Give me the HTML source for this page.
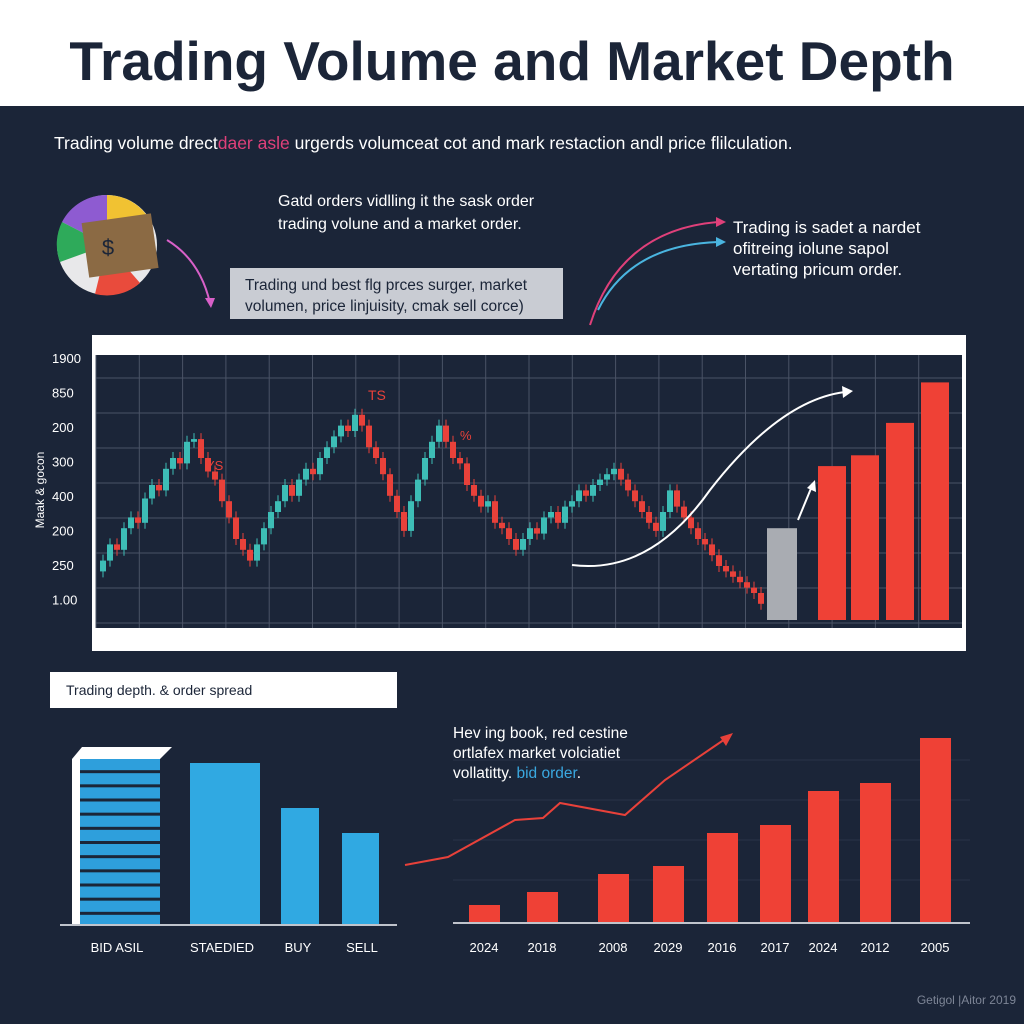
<!DOCTYPE html>
<html><head><meta charset="utf-8"><style>
body{margin:0;width:1024px;height:1024px;background:#1b2538;overflow:hidden;font-family:"Liberation Sans",sans-serif}
svg{display:block}
</style></head><body>
<svg id="c" width="1024" height="1024" xmlns="http://www.w3.org/2000/svg">
<rect x="0" y="0" width="1024" height="1024" fill="#1b2538"/>
<rect x="0" y="0" width="1024" height="106" fill="#ffffff"/>
<text x="512" y="80" text-anchor="middle" font-size="55" font-weight="bold" fill="#1b2538">Trading Volume and Market Depth</text>
<text x="54" y="149" font-size="17.5" fill="#ffffff">Trading volume drect<tspan fill="#e0407a">daer asle</tspan> urgerds volumceat cot and mark restaction andl price flilculation.</text>
<g>
<circle cx="107" cy="245" r="50" fill="#e8e8ea"/>
<path d="M107 245 L107 195 A50 50 0 0 1 150 220 Z" fill="#f1c232"/>
<path d="M107 245 L62 222 A50 50 0 0 1 107 195 Z" fill="#8e5bd1"/>
<path d="M107 245 L60 262 A50 50 0 0 1 62 222 Z" fill="#2eaa5a"/>
<path d="M107 245 L140 283 A50 50 0 0 1 95 294 Z" fill="#e94b3c"/>
<rect x="85" y="218" width="70" height="55" fill="#8b6a44" transform="rotate(-8 120 245)"/>
<text x="108" y="255" font-size="22" fill="#1b2538" text-anchor="middle">$</text>
</g>
<path d="M167 240 Q200 260 210 303" fill="none" stroke="#d860c8" stroke-width="2"/>
<polygon points="205,298 215,298 211,308" fill="#d860c8"/>
<text x="278" y="206" font-size="16" fill="#fff">Gatd orders vidlling it the sask order</text>
<text x="278" y="229" font-size="16" fill="#fff">trading volune and a market order.</text>
<rect x="230" y="268" width="333" height="51" fill="#c9ccd3"/>
<text x="245" y="290" font-size="15.5" fill="#1b2538">Trading und best flg prces surger, market</text>
<text x="245" y="311" font-size="15.5" fill="#1b2538">volumen, price linjuisity, cmak sell corce)</text>
<path d="M590 325 Q620 230 718 222" fill="none" stroke="#e0407a" stroke-width="2"/>
<path d="M598 310 Q630 245 718 242" fill="none" stroke="#4ab5e0" stroke-width="2"/>
<polygon points="716,217 726,222 716,227" fill="#e0407a"/>
<polygon points="716,237 726,242 716,247" fill="#4ab5e0"/>
<text x="733" y="233" font-size="17" fill="#fff">Trading is sadet a nardet</text>
<text x="733" y="254" font-size="17" fill="#fff">ofitreing iolune sapol</text>
<text x="733" y="275" font-size="17" fill="#fff">vertating pricum order.</text>

<rect x="92" y="335" width="874" height="316" fill="#ffffff"/>
<rect x="96" y="355" width="866" height="273" fill="#1b2538"/>
<g id="cgrid"></g>
<g id="candles"></g>
<g id="ylabels"></g>
<text x="44" y="490" font-size="12" fill="#fff" transform="rotate(-90 44 490)" text-anchor="middle">Maak &amp; gocon</text>
<text x="368" y="400" font-size="14" fill="#e8413a">TS</text>
<text x="206" y="470" font-size="13" fill="#e8413a">YS</text>
<text x="460" y="440" font-size="13" fill="#e8413a">%</text>
<path d="M572 565 Q650 575 710 490 Q780 400 845 392" fill="none" stroke="#fff" stroke-width="2"/>
<polygon points="842,386 853,391 843,398" fill="#fff"/>
<path d="M798 520 L812 486" stroke="#fff" stroke-width="2"/>
<polygon points="807,488 815,480 816,492" fill="#fff"/>

<rect x="50" y="672" width="347" height="36" fill="#fff"/>
<text x="66" y="695" font-size="14" fill="#1b2538">Trading depth. &amp; order spread</text>
<g id="depth"></g>
<g id="years"></g>
<text x="453" y="738" font-size="15.5" fill="#fff">Hev ing book, red cestine</text>
<text x="453" y="758" font-size="15.5" fill="#fff">ortlafex market volciatiet</text>
<text x="453" y="778" font-size="15.5" fill="#fff">vollatitty. <tspan fill="#3aa8e0">bid order</tspan>.</text>
<text x="1016" y="1004" font-size="12" fill="#7d8596" text-anchor="end">Getigol |Aitor 2019</text>
</svg>
<script>
const NS="http://www.w3.org/2000/svg";
const priceCloses=[22,28,26,34,38,36,45,50,48,56,60,58,66,67,60,55,52,44,38,30,26,22,28,34,40,44,50,46,52,56,54,60,64,68,72,70,76,72,64,60,54,46,40,33,44,52,60,66,72,66,60,58,50,46,42,44,36,34,30,26,30,34,32,38,40,36,42,44,48,46,50,52,54,56,52,48,44,40,36,33,40,48,42,38,34,30,28,24,20,18,16,14,12,10,6];
const volumeBars=[34,57,61,73,88];
const yTickLabels=["1900","850","200","300","400","200","250","1.00"];
const depthCategories=["BID ASIL","STAEDIED","BUY","SELL"];
const depthValues=[170,162,117,92];
const yearCategories=["2024","2018","2008","2029","2016","2017","2024","2012","2005"];
const yearValues=[18,31,49,57,90,98,132,140,185];
const trendValues=[58,66,103,105,120,108,143,186];

function mk(tag,attrs,parent){const e=document.createElementNS(NS,tag);for(const k in attrs)e.setAttribute(k,attrs[k]);parent.appendChild(e);return e;}
const yP=v=>620-v*2.7;
const xC=i=>100+i*7;
const g=document.getElementById('cgrid');
for(let i=0;i<20;i++){const l=mk('line',{x1:96+i*43.3,x2:96+i*43.3,y1:355,y2:628,stroke:'#4a5366','stroke-width':1},g);

}
for(let j=0;j<8;j++){const yy=378+j*35;const l=mk('line',{x1:96,x2:962,y1:yy,y2:yy,stroke:'#4a5366','stroke-width':1},g);

}
const yl=document.getElementById('ylabels');
yTickLabels.forEach((t,j)=>{const e=mk('text',{x:52,y:363+j*34.5,'font-size':13,fill:'#fff'},yl);e.textContent=t;

});
const cg=document.getElementById('candles');
priceCloses.forEach((c,i)=>{const o=i?priceCloses[i-1]:c-4;const up=c>=o;const col=up?'#3dbdb6':'#e8413a';
const top=yP(Math.max(o,c)),bot=yP(Math.min(o,c));
const w=mk('line',{x1:xC(i)+3,x2:xC(i)+3,y1:top-6,y2:bot+6,stroke:col,'stroke-width':1},cg);


const r=mk('rect',{x:xC(i),y:top,width:6,height:Math.max(2,bot-top),fill:col},cg);

});
volumeBars.forEach((v,i)=>{const x=[767,818,851,886,921][i];const r=mk('rect',{x:x,y:yP(v),width:i?28:30,height:620-yP(v),fill:i?'#ef4136':'#a9acb2'},cg);

});
const d=document.getElementById('depth');
const base=925;
const dx=[72,190,281,342],dw=[100,70,38,37],lx=[117,222,298,362];
depthValues.forEach((v,i)=>{
if(i===0){for(let k=0;k<12;k++){const s=mk('rect',{x:72,y:base-v+k*(v/12)+4,width:88,height:v/12-3,fill:'#2e9fdc'},d);

}
const t=mk('polygon',{points:`72,${base-v+4} 82,${base-v-8} 172,${base-v-8} 160,${base-v+4}`,fill:'#fff'},d);


const sd=mk('rect',{x:72,y:base-v+4,width:8,height:v-4,fill:'#fff'},d);

}
else{const r=mk('rect',{x:dx[i],y:base-v,width:dw[i],height:v,fill:'#30a9e2'},d);

}
const t=mk('text',{x:lx[i],y:952,'font-size':13,fill:'#fff','text-anchor':'middle'},d);t.textContent=depthCategories[i];

});
const bl=mk('line',{x1:60,x2:397,y1:base,y2:base,stroke:'#c0c4cc','stroke-width':2},d);


const yg=document.getElementById('years');
const yb=923;
[760,800,840,880].forEach(yy=>{const l=mk('line',{x1:453,x2:970,y1:yy,y2:yy,stroke:'#2a3448','stroke-width':1},yg);

});
const yx=[469,527,598,653,707,760,808,860,920];
yearValues.forEach((v,i)=>{const r=mk('rect',{x:yx[i],y:yb-v,width:31,height:v,fill:'#ef4136'},yg);


const t=mk('text',{x:yx[i]+15,y:952,'font-size':13,fill:'#fff','text-anchor':'middle'},yg);t.textContent=yearCategories[i];

});
const ybl=mk('line',{x1:453,x2:970,y1:yb,y2:yb,stroke:'#c0c4cc','stroke-width':2},yg);


const tx=[405,448,515,543,560,625,665,728];
const pts=trendValues.map((v,i)=>`${tx[i]},${yb-v}`).join(' ');
const pl=mk('polyline',{points:pts,fill:'none',stroke:'#e8413a','stroke-width':2},yg);


const lastY=yb-trendValues[trendValues.length-1];
const ah=mk('polygon',{points:`${tx[7]+5},${lastY-4} ${tx[7]-8},${lastY} ${tx[7]-2},${lastY+9}`,fill:'#e8413a'},yg);


</script>
</body></html>
